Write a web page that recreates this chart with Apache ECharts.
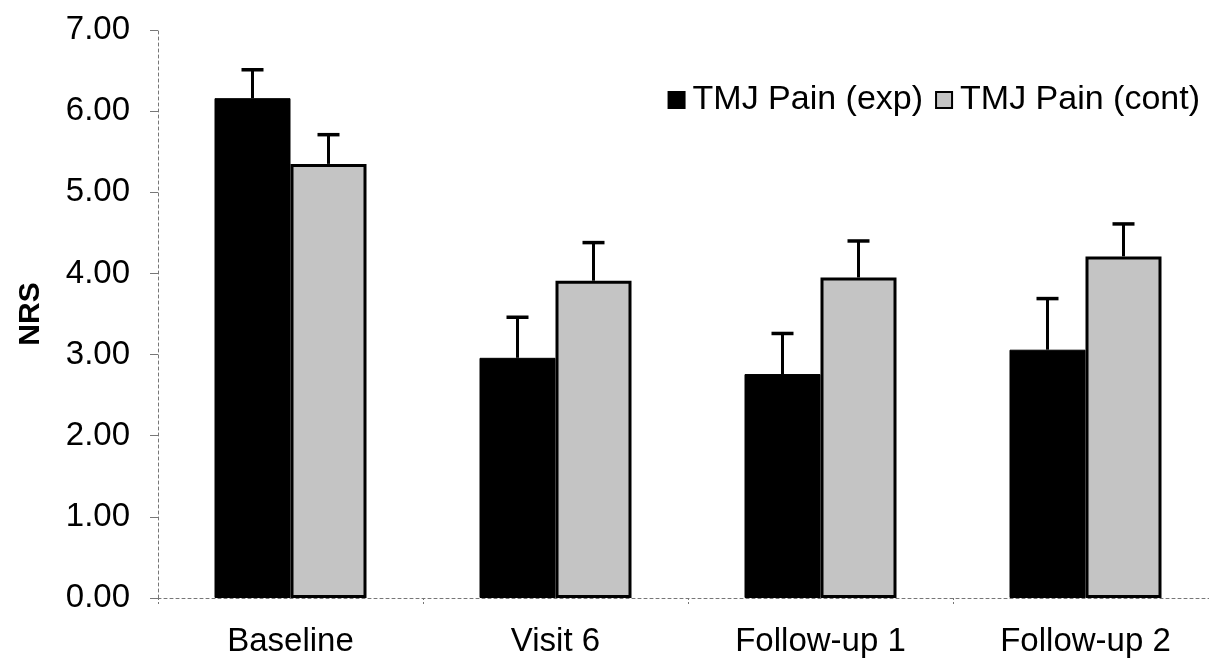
<!DOCTYPE html>
<html>
<head>
<meta charset="utf-8">
<script src="https://cdn.jsdelivr.net/npm/echarts@6/dist/echarts.min.js"></script>
<style>
html,body{margin:0;padding:0;background:#fff;}
#chart{width:1209px;height:663px;}
</style>
</head>
<body>
<div id="chart"></div>
<script>
const categories = ['Baseline', 'Visit 6', 'Follow-up 1', 'Follow-up 2'];
const seriesNames = ['TMJ Pain (exp)', 'TMJ Pain (cont)'];
const expMean = [6.16, 2.96, 2.76, 3.06];
const expErr = [0.35, 0.50, 0.50, 0.63];
const contMean = [5.35, 3.91, 3.95, 4.21];
const contErr = [0.36, 0.47, 0.45, 0.40];
const yTicks = [0, 1, 2, 3, 4, 5, 6, 7];

const BAR_W = 76;
const FONT = 'Liberation Sans, Arial, sans-serif';

function errSeries(means, errs, side) {
  const data = means.map((m, i) => [i, m, m + errs[i]]);
  return {
    type: 'custom',
    z: 5,
    silent: true,
    data: data,
    renderItem: function (params, api) {
      const i = api.value(0);
      const p0 = api.coord([i, api.value(1)]);
      const p1 = api.coord([i, api.value(2)]);
      const x = p0[0] + side * BAR_W / 2;
      const capHalf = 11;
      return {
        type: 'group',
        children: [
          { type: 'line', shape: { x1: x, y1: p0[1], x2: x, y2: p1[1] }, style: { stroke: '#000', lineWidth: 3 } },
          { type: 'line', shape: { x1: x - capHalf, y1: p1[1], x2: x + capHalf, y2: p1[1] }, style: { stroke: '#000', lineWidth: 3.5 } }
        ]
      };
    }
  };
}

const chart = echarts.init(document.getElementById('chart'), null, { renderer: 'canvas' });
chart.setOption({
  animation: false,
  backgroundColor: '#fff',
  textStyle: { fontFamily: FONT },
  grid: { left: 158, right: -9, top: 30, bottom: 65, containLabel: false, outerBoundsMode: 'none' },
  legend: {
    data: seriesNames,
    top: 78,
    right: 4,
    itemWidth: 16,
    itemHeight: 16,
    itemGap: 12,
    icon: 'rect',
    textStyle: { fontSize: 34, color: '#000', fontFamily: FONT, padding: [0, 0, 0, 3] }
  },
  xAxis: {
    type: 'category',
    data: categories,
    axisLine: { show: true, lineStyle: { color: '#777', width: 1, type: [3, 3] } },
    axisTick: { show: true, length: 8, lineStyle: { color: '#777', type: [2, 2] } },
    axisLabel: { fontSize: 33, color: '#000', margin: 27, fontFamily: FONT },
    splitLine: { show: false }
  },
  yAxis: {
    type: 'value',
    min: yTicks[0],
    max: yTicks[yTicks.length - 1],
    interval: 1,
    name: 'NRS',
    nameLocation: 'middle',
    nameGap: 112,
    nameRotate: 90,
    nameTextStyle: { fontSize: 30, fontWeight: 'bold', color: '#000', fontFamily: FONT },
    axisLine: { show: true, lineStyle: { color: '#777', width: 1, type: [3, 3] } },
    axisTick: { show: true, length: 8, lineStyle: { color: '#777' } },
    axisLabel: { fontSize: 33, color: '#000', margin: 28, fontFamily: FONT, formatter: v => v.toFixed(2) },
    splitLine: { show: false }
  },
  series: [
    {
      name: seriesNames[0],
      type: 'bar',
      data: expMean,
      barWidth: BAR_W,
      barGap: '0%',
      itemStyle: { color: '#000', borderColor: '#000', borderWidth: 1 }
    },
    {
      name: seriesNames[1],
      type: 'bar',
      data: contMean,
      barWidth: BAR_W,
      barGap: '0%',
      itemStyle: { color: '#c4c4c4', borderColor: '#000', borderWidth: 3 }
    },
    errSeries(expMean, expErr, -1),
    errSeries(contMean, contErr, 1)
  ]
});
</script>
</body>
</html>
